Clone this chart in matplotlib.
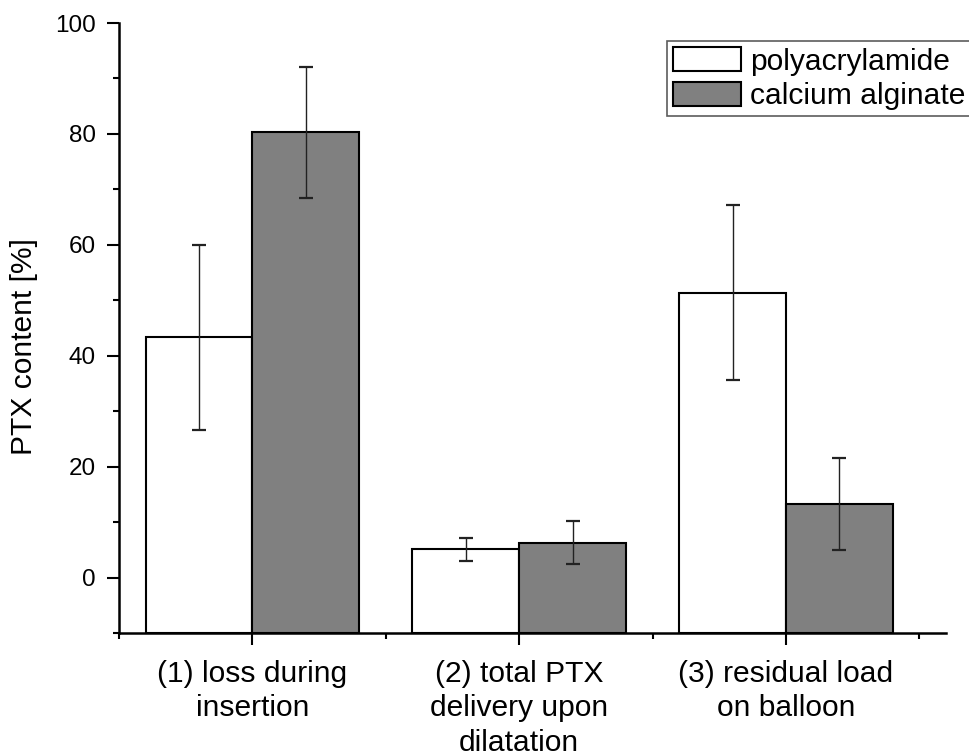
import matplotlib
matplotlib.use('Agg')
import matplotlib.pyplot as plt
from matplotlib.ticker import FixedLocator

plt.rcParams['font.family'] = ['Liberation Sans', 'DejaVu Sans']

categories = ['(1) loss during\ninsertion',
              '(2) total PTX\ndelivery upon\ndilatation',
              '(3) residual load\non balloon']
series = ['polyacrylamide', 'calcium alginate']
poly_mean = [43.3, 5.1, 51.4]
poly_err = [16.7, 2.1, 15.7]
alg_mean = [80.3, 6.3, 13.3]
alg_err = [11.8, 3.9, 8.3]
yticks = [0, 20, 40, 60, 80, 100]

base = -10
width = 0.4
x = [1, 2, 3]

fig = plt.figure(figsize=(9.69, 7.55), dpi=100)
ax = fig.add_axes([0.1228, 0.1616, 0.8535, 0.8079])

x_poly = [i - width / 2 for i in x]
x_alg = [i + width / 2 for i in x]
ax.bar(x_poly, [v - base for v in poly_mean], width, bottom=base,
       color='white', edgecolor='black', linewidth=1.5, label=series[0], zorder=2)
ax.bar(x_alg, [v - base for v in alg_mean], width, bottom=base,
       color='#808080', edgecolor='black', linewidth=1.5, label=series[1], zorder=2)
err_kw = dict(fmt='none', ecolor='#222222', elinewidth=1.0, capsize=4.7, capthick=1.6, zorder=3)
ax.errorbar(x_poly, poly_mean, yerr=poly_err, **err_kw)
ax.errorbar(x_alg, alg_mean, yerr=alg_err, **err_kw)

ax.set_xlim(0.5, 3.6)
ax.set_ylim(-10, 100)
ax.spines['top'].set_visible(False)
ax.spines['right'].set_visible(False)
for s in ('left', 'bottom'):
    ax.spines[s].set_linewidth(1.8)

ax.set_xticks(x)
ax.set_xticklabels(categories, fontsize=21.6, linespacing=1.3)
ax.xaxis.set_minor_locator(FixedLocator([0.5, 1.5, 2.5, 3.5]))
ax.set_yticks(yticks)
ax.set_yticklabels([str(t) for t in yticks], fontsize=17.5)
ax.yaxis.set_minor_locator(FixedLocator([-10, 10, 30, 50, 70, 90]))
ax.tick_params(which='major', direction='out', length=8.6, width=1.5, pad=8)
ax.tick_params(axis='x', which='major', pad=10.5)
ax.tick_params(which='minor', direction='out', length=4.5, width=1.5)

ax.set_ylabel('PTX content [%]', fontsize=21.6)
ax.yaxis.set_label_coords(-0.098, 0.47)

leg = ax.legend(loc='upper left', bbox_to_anchor=(667 / 969, 1 - 41 / 755),
                bbox_transform=fig.transFigure, fontsize=21.6, frameon=True,
                fancybox=False, edgecolor='#333333', handlelength=2.27,
                handleheight=0.87, handletextpad=0.3, borderpad=0.2,
                labelspacing=0.2, borderaxespad=0)
leg.get_frame().set_linewidth(1.2)

fig.savefig('out.png', dpi=100)
